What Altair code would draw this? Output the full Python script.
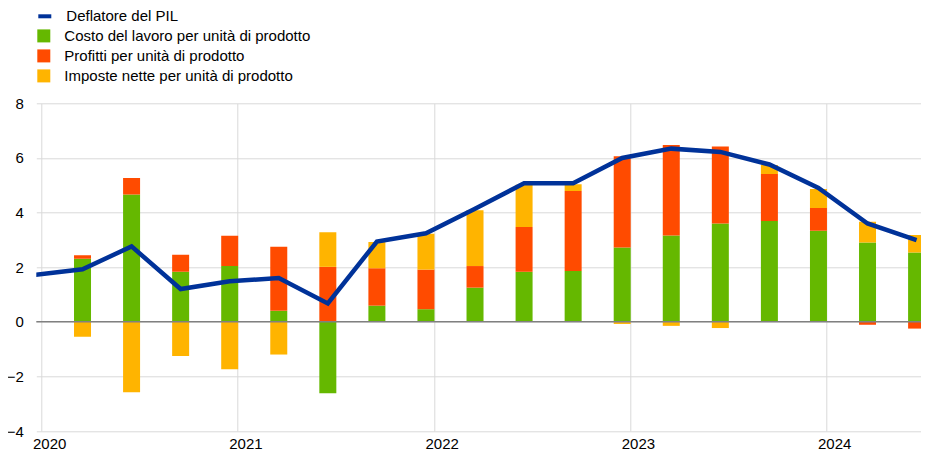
import altair as alt
import pandas as pd

# ---- data ----
quarters = ["2020Q1", "2020Q2", "2020Q3", "2020Q4",
            "2021Q1", "2021Q2", "2021Q3", "2021Q4",
            "2022Q1", "2022Q2", "2022Q3", "2022Q4",
            "2023Q1", "2023Q2", "2023Q3", "2023Q4",
            "2024Q1", "2024Q2"]
labour = [2.31, 4.66, 1.83, 2.04, 0.40, -2.62, 0.59, 0.46, 1.25,
          1.83, 1.86, 2.72, 3.16, 3.60, 3.69, 3.33, 2.90, 2.54]
profits = [0.13, 0.60, 0.62, 1.11, 2.35, 2.01, 1.37, 1.45, 0.79,
           1.64, 2.93, 3.34, 3.31, 2.82, 1.72, 0.84, -0.11, -0.25]
taxes = [-0.55, -2.58, -1.25, -1.74, -1.20, 1.27, 0.96, 1.31, 2.04,
         1.55, 0.25, -0.08, -0.15, -0.23, 0.33, 0.69, 0.76, 0.64]
deflator_quarters = ["2019Q4"] + quarters
deflator = [1.71, 1.92, 2.76, 1.20, 1.48, 1.60, 0.67, 2.94, 3.24, 4.14,
            5.07, 5.07, 6.00, 6.34, 6.22, 5.76, 4.90, 3.60, 2.99]
year_ticks = [2020, 2021, 2022, 2023, 2024]
y_ticks = [-4, -2, 0, 2, 4, 6, 8]

S_DEF = "Deflatore del PIL"
S_LAB = "Costo del lavoro per unità di prodotto"
S_PROF = "Profitti per unità di prodotto"
S_TAX = "Imposte nette per unità di prodotto"
bar_series = [S_LAB, S_PROF, S_TAX]
bar_colors = ["#65b800", "#ff4b00", "#ffb400"]
line_color = "#003299"


def qpos(q):
    return int(q[:4]) + (int(q[5]) - 1) * 0.25 + 0.21


rows = []
for i, q in enumerate(quarters):
    for o, (name, vals) in enumerate(zip(bar_series, [labour, profits, taxes])):
        rows.append({"t": qpos(q), "serie": name, "valore": vals[i], "ord": o})
bars_df = pd.DataFrame(rows)
line_df = pd.DataFrame({"t": [qpos(q) for q in deflator_quarters],
                        "valore": deflator, "serie": S_DEF})
zero_df = pd.DataFrame({"v": [0]})

FONT = "Liberation Sans"
xscale = alt.Scale(domain=[2020, 2024.457], nice=False, zero=False)
yscale = alt.Scale(domain=[-4, 8], nice=False, zero=False)

# gridlines at the year boundaries, labels shifted slightly to the right
x_grid_axis = alt.Axis(values=year_ticks, title=None, grid=True, labels=False,
                       orient="bottom")
x_label_axis = alt.Axis(values=[y + 0.04 for y in year_ticks], title=None, grid=False,
                        labelExpr="format(floor(datum.value), 'd')", orient="bottom",
                        labelPadding=5, labelFlush=False)
y_axis = alt.Axis(values=y_ticks, title=None, grid=True, labelPadding=13)

bars = alt.Chart(bars_df).mark_bar(size=17, clip=True).encode(
    x=alt.X("t:Q", scale=xscale, axis=x_grid_axis),
    y=alt.Y("valore:Q", stack="zero", scale=yscale, axis=y_axis),
    color=alt.Color("serie:N",
                    scale=alt.Scale(domain=bar_series, range=bar_colors),
                    legend=alt.Legend(title=None, orient="none", legendX=0, legendY=-74.9,
                                      symbolType="square", symbolSize=169,
                                      symbolStrokeWidth=0, labelOffset=13,
                                      rowPadding=4, padding=0, labelLimit=0)),
    order=alt.Order("ord:Q"),
)

zero = alt.Chart(zero_df).mark_rule(color="#808080", strokeWidth=1.5).encode(
    y=alt.Y("v:Q", scale=yscale, axis=y_axis)
)

line = alt.Chart(line_df).mark_line(strokeWidth=4.5, clip=True).encode(
    x=alt.X("t:Q", scale=xscale, axis=x_label_axis),
    y=alt.Y("valore:Q", scale=yscale, axis=y_axis),
    stroke=alt.Stroke("serie:N",
                      scale=alt.Scale(domain=[S_DEF], range=[line_color]),
                      legend=alt.Legend(title=None, orient="none", legendX=0, legendY=-95.5,
                                        symbolType="stroke", symbolSize=169,
                                        symbolStrokeWidth=4, labelOffset=13,
                                        padding=0, labelLimit=0)),
)

chart = alt.layer(bars, zero, line).resolve_axis(x="independent").resolve_scale(
    color="independent"
).properties(
    width=884.7,
    height=327.7,
    autosize=alt.AutoSizeParams(type="none"),
    padding={"left": 28.3, "top": 95.3, "right": 0, "bottom": 19},
).configure_view(stroke=None).configure_axis(
    domain=False, ticks=False, gridColor="#d9d9d9", gridWidth=1,
    labelFont=FONT, labelFontSize=15, labelColor="#000000",
).configure_legend(
    labelFont=FONT, labelFontSize=15, labelColor="#000000",
)

chart.save("out.html", embed_options={"renderer": "svg", "actions": False})
